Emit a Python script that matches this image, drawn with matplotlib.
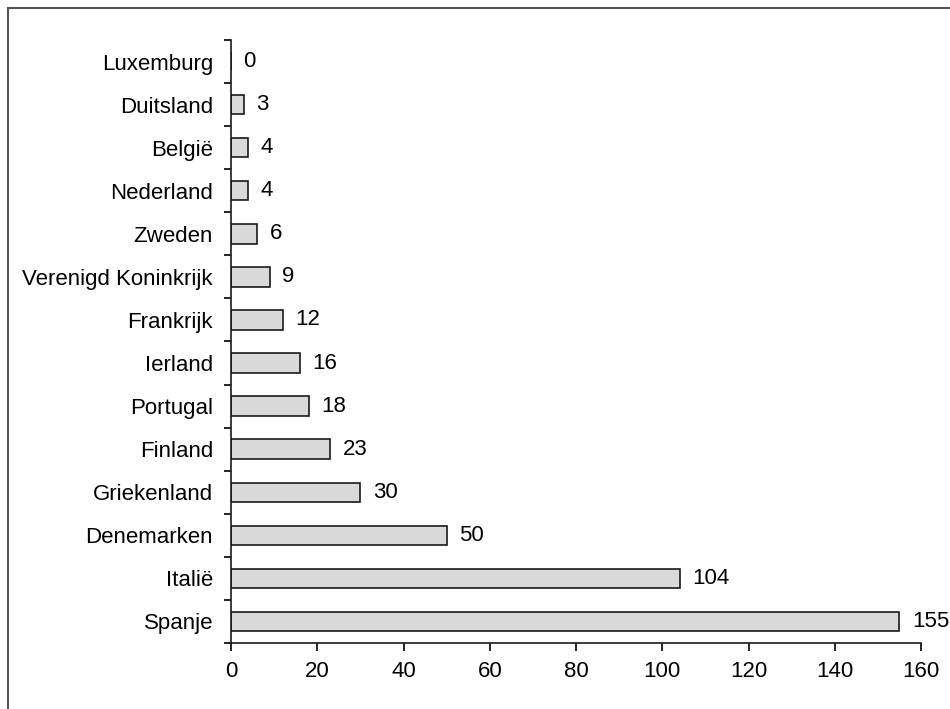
import matplotlib
matplotlib.use("Agg")
import matplotlib.pyplot as plt
from matplotlib.lines import Line2D
import numpy as np

countries = ["Spanje", "Italië", "Denemarken", "Griekenland", "Finland", "Portugal",
             "Ierland", "Frankrijk", "Verenigd Koninkrijk", "Zweden", "Nederland",
             "België", "Duitsland", "Luxemburg"]
values = [155, 104, 50, 30, 23, 18, 16, 12, 9, 6, 4, 4, 3, 0]
x_ticks = [0, 20, 40, 60, 80, 100, 120, 140, 160]

plt.rcParams["font.family"] = ["Liberation Sans", "DejaVu Sans"]
FS = 16

fig = plt.figure(figsize=(9.5, 7.09), dpi=100)
ax = fig.add_axes([0.2432, 0.0931, 0.7263, 0.8505])

pos = np.arange(len(countries))
ax.barh(pos, values, height=0.45, color="#d9d9d9", edgecolor="#1a1a1a", linewidth=1.2)

for p, v in zip(pos, values):
    ax.annotate(str(v), xy=(v, p), xytext=(9, 0), textcoords="offset points",
                va="center", ha="left", fontsize=FS)

ax.set_xlim(0, 160)
ax.set_ylim(-0.5, len(countries) - 0.5)
ax.set_xticks(x_ticks)
ax.set_xticklabels([str(t) for t in x_ticks], fontsize=FS)

# category labels sit between the boundary ticks
ax.set_yticks(pos)
ax.set_yticklabels(countries, fontsize=FS)
ax.tick_params(axis="y", which="major", length=0, pad=13)
ax.set_yticks(np.arange(-0.5, len(countries), 1.0), minor=True)
ax.tick_params(axis="y", which="minor", length=5, width=1.2, direction="out")
ax.tick_params(axis="x", length=6, width=1.2, direction="out", pad=7)

for side in ("top", "right"):
    ax.spines[side].set_visible(False)
for side in ("left", "bottom"):
    ax.spines[side].set_linewidth(1.2)
    ax.spines[side].set_color("#1a1a1a")

# outer frame lines (left and top)
fig.add_artist(Line2D([8 / 950, 8 / 950], [0, 1 - 8 / 709], transform=fig.transFigure,
                      color="#555555", linewidth=1.5))
fig.add_artist(Line2D([8 / 950, 1], [1 - 8 / 709, 1 - 8 / 709], transform=fig.transFigure,
                      color="#555555", linewidth=1.5))

fig.savefig("out.png", dpi=100)
